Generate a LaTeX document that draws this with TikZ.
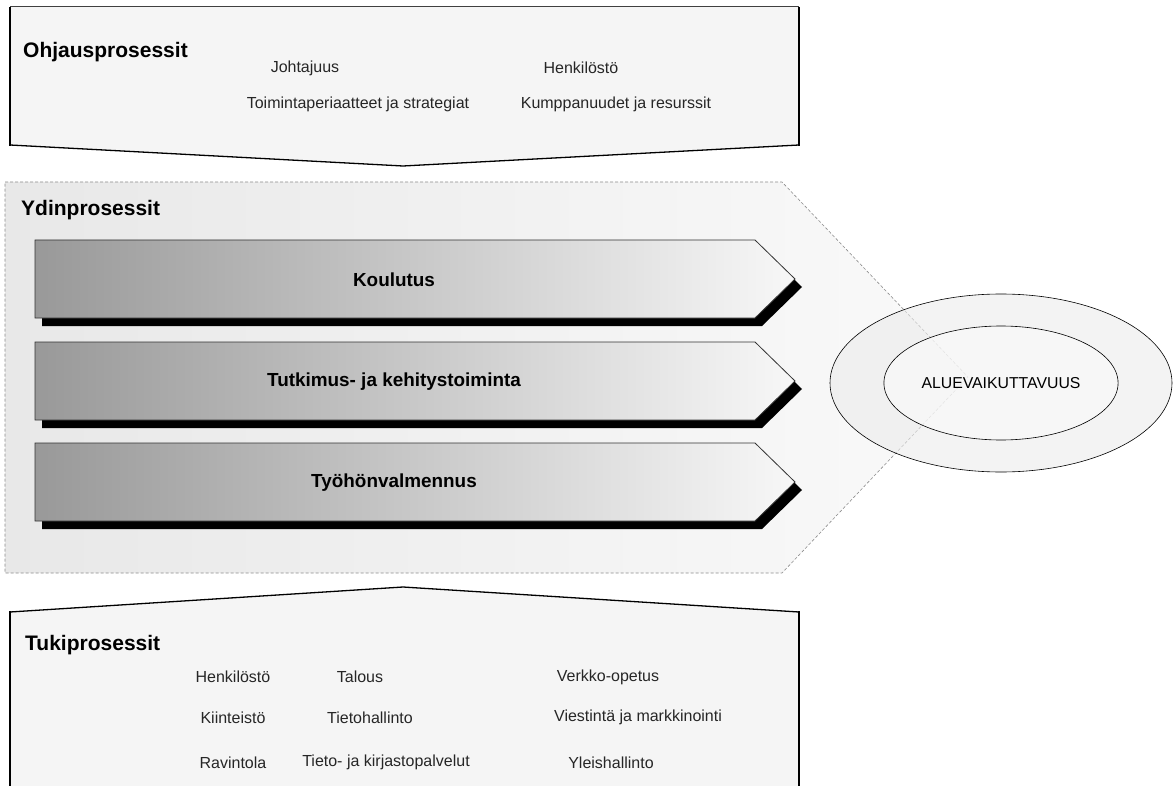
\documentclass[tikz,border=0pt]{standalone}
\usepackage{fontspec}
\setmainfont{Liberation Sans}
\usetikzlibrary{shapes.geometric, positioning}

\begin{document}
\begin{tikzpicture}[
x=1pt, y=-1pt,
title/.style={font=\bfseries\fontsize{21}{23}\selectfont, anchor=west, inner sep=0pt},
item/.style={font=\fontsize{16}{18}\selectfont, text=black!85, inner sep=0pt},
procbox/.style={draw=black!80, line width=0.8pt, left color=black!40, right color=black!3},
proctext/.style={font=\bfseries\fontsize{18.9}{21}\selectfont, inner sep=0pt},
ring/.style={ellipse, draw, line width=0.6pt, fill opacity=0.6, text opacity=1}
]
\useasboundingbox (0,0) rectangle (1175,786);

% Ohjausprosessit
\fill[black!4] (10,7) -- (799,7) -- (799,145) -- (403,166) -- (10,145) -- cycle;
\draw[black!75, line width=1pt] (10,7) -- (799,7);
\draw[line width=1.3pt] (10,145) -- (403,166) -- (799,145);
\draw[line width=2.5pt] (10,7) -- (10,146) (799,7) -- (799,146);

\node[title] (ohjaus) at (23,52) {Ohjausprosessit};
\node[item] (johtajuus) at (305,68) {Johtajuus};
\node[item] (henk1) at (581,68) {Henkilöstö};
\node[item] (strategiat) at (358,104) {Toimintaperiaatteet ja strategiat};
\node[item] (kumppanuudet) at (616,104) {Kumppanuudet ja resurssit};

% Ydinprosessit
\path[draw=black!45, densely dashed, line width=0.6pt, left color=black!9, right color=black!2]
  (5,182) -- (782,182) -- (968,377) -- (782,573) -- (5,573) -- cycle;
\node[title] (ydin) at (21,210) {Ydinprosessit};

\foreach \y/\name/\txt in {240/koulutus/Koulutus, 342/tki/{Tutkimus- ja kehitystoiminta}, 443/tyo/Työhönvalmennus} {
  \fill[black] (42,\y+8) -- (762,\y+8) -- (802,\y+47) -- (762,\y+86) -- (42,\y+86) -- cycle;
  \path[procbox] (35,\y) -- (755,\y) -- (795,\y+39) -- (755,\y+78) -- (35,\y+78) -- cycle;
  \node[proctext] (\name) at (394,\y+40) {\txt};
}

% Aluevaikuttavuus
\node[ring, fill=black!8, minimum width=342pt, minimum height=178pt] (outer) at (1001,383) {};
\node[ring, fill=black!2, minimum width=232pt, minimum height=114pt,
  font=\fontsize{15.8}{18}\selectfont] (alue) at (outer.center) {ALUEVAIKUTTAVUUS};

% Tukiprosessit
\fill[black!4] (10,612) -- (403,587) -- (799,612) -- (799,786) -- (10,786) -- cycle;
\draw[line width=1.3pt] (10,612) -- (403,587) -- (799,612);
\draw[line width=2.5pt] (10,611) -- (10,786) (799,611) -- (799,786);

\node[title] (tuki) at (25,645) {Tukiprosessit};
\node[item] (henk2) at (233,677) {Henkilöstö};
\node[item] (kiinteisto) at (233,718) {Kiinteistö};
\node[item] (ravintola) at (233,763) {Ravintola};
\node[item] (talous) at (360,677) {Talous};
\node[item] (tietohallinto) at (370,718) {Tietohallinto};
\node[item] (kirjasto) at (386,762) {Tieto- ja kirjastopalvelut};
\node[item] (verkko) at (608,677) {Verkko-opetus};
\node[item] (viestinta) at (638,717) {Viestintä ja markkinointi};
\node[item] (yleis) at (611,763) {Yleishallinto};

\end{tikzpicture}
\end{document}
